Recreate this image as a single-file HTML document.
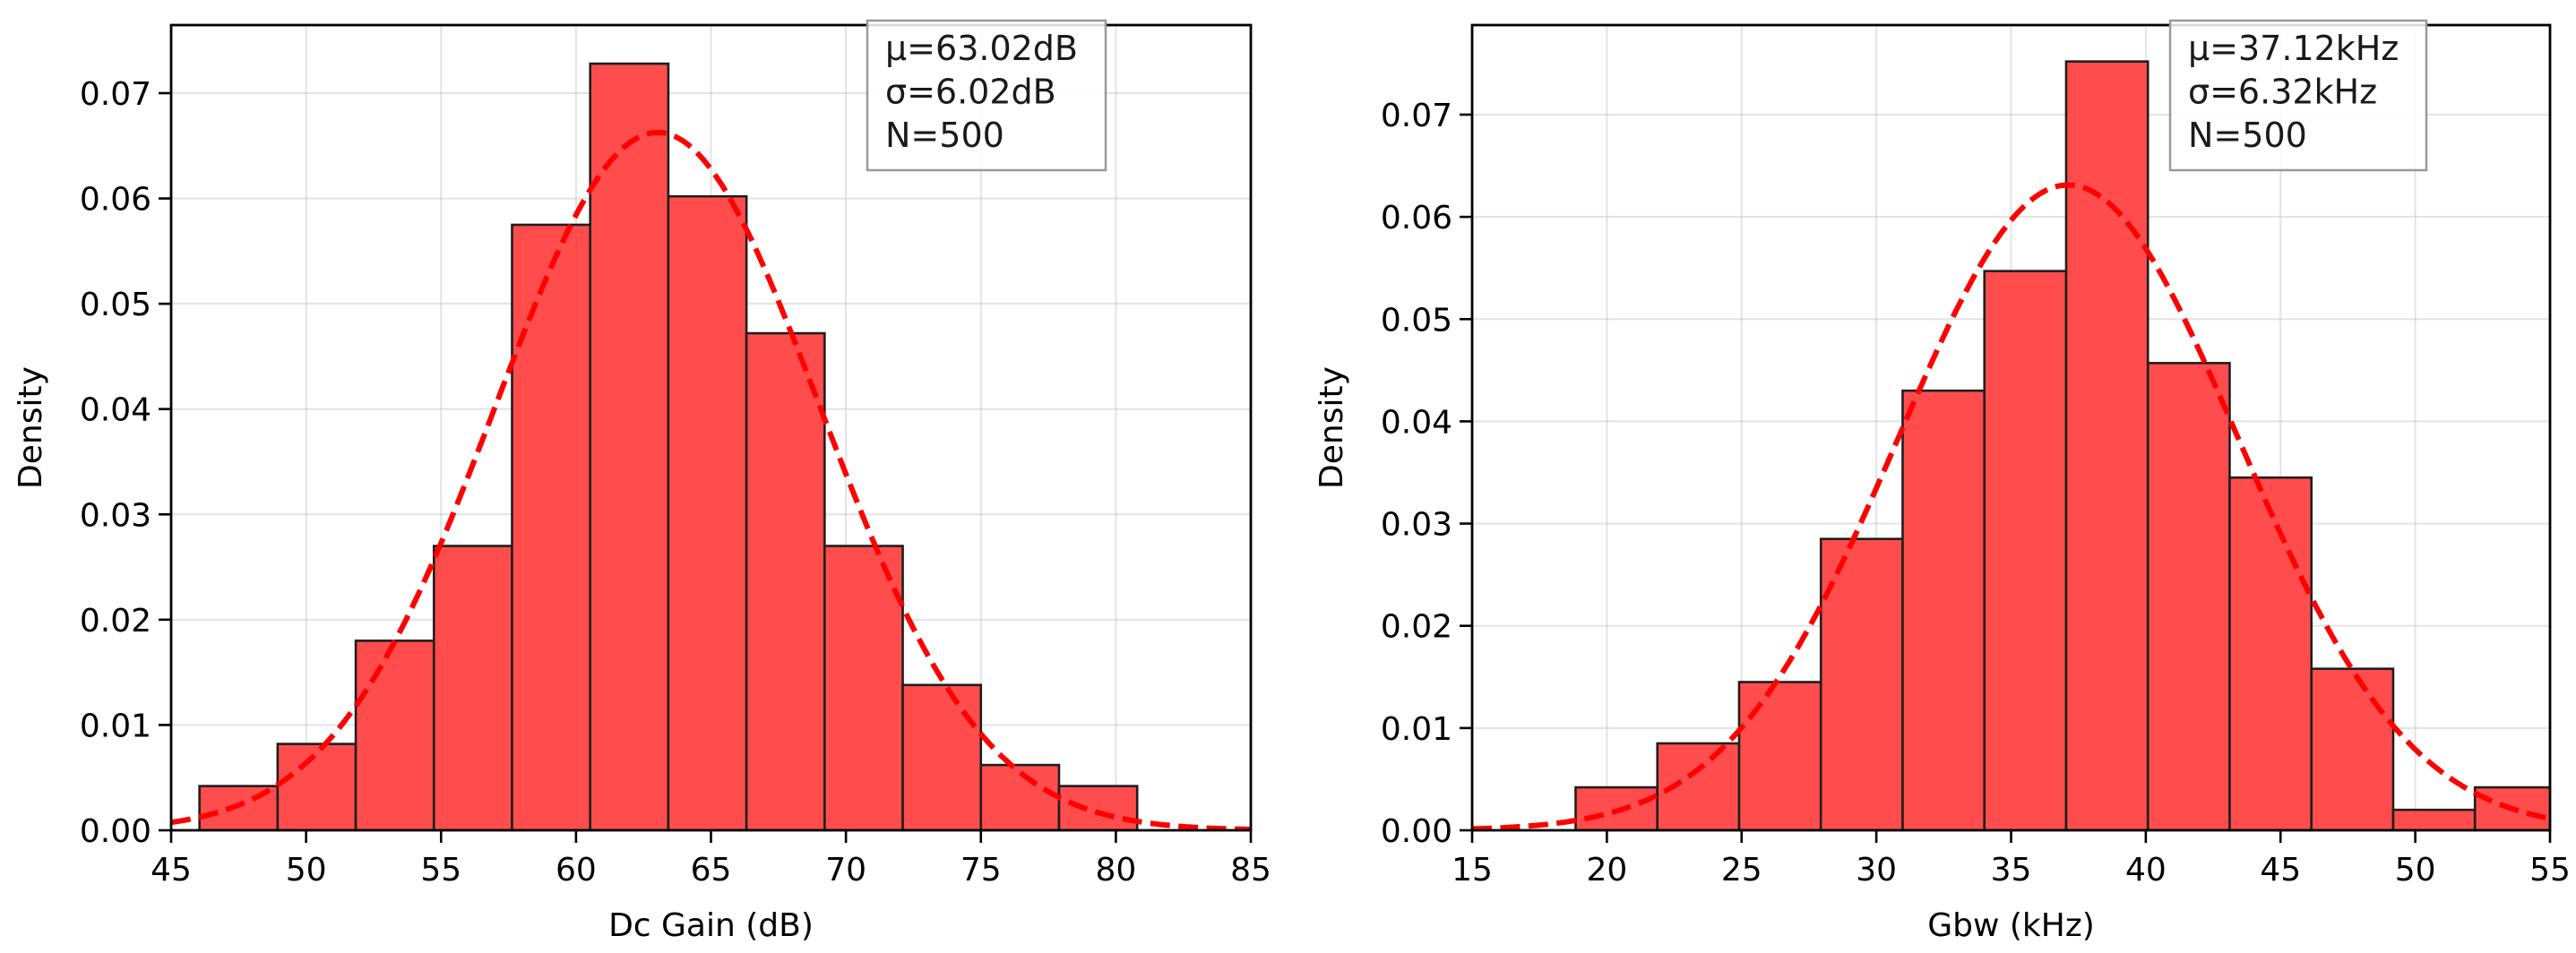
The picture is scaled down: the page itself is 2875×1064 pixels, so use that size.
<!DOCTYPE html>
<html><head><meta charset="utf-8"><style>
html,body{margin:0;padding:0;background:#fff;}
svg{display:block;font-family:"DejaVu Sans","Liberation Sans",sans-serif;}
</style></head><body>
<svg id="fig" width="2875" height="1064" viewBox="0 0 2875 1064"></svg>
<script>
// Left chart data
const leftBinStart = 46.05;
const leftBinWidth = 2.895;
const leftDensity = [0.0042, 0.0082, 0.018, 0.027, 0.0575, 0.0728, 0.0602, 0.0472, 0.027, 0.0138, 0.0062, 0.0042];
const leftFit = [63.02, 6.02];
const leftXTicks = [45, 50, 55, 60, 65, 70, 75, 80, 85];
const leftStats = ["μ=63.02dB", "σ=6.02dB", "N=500"];
// Right chart data
const rightBinStart = 18.84;
const rightBinWidth = 3.034;
const rightDensity = [0.0042, 0.0085, 0.0145, 0.0285, 0.043, 0.0547, 0.0752, 0.0457, 0.0345, 0.0158, 0.002, 0.0042];
const rightFit = [37.12, 6.32];
const rightXTicks = [15, 20, 25, 30, 35, 40, 45, 50, 55];
const rightStats = ["μ=37.12kHz", "σ=6.32kHz", "N=500"];
const yTicks = [0.00, 0.01, 0.02, 0.03, 0.04, 0.05, 0.06, 0.07];

const NS = "http://www.w3.org/2000/svg";
const svg = document.getElementById('fig');
function mk(tag, attrs, parent){
  const e = document.createElementNS(NS, tag);
  for (const k in attrs) e.setAttribute(k, attrs[k]);
  (parent || svg).appendChild(e);
  return e;
}

function drawPanel(p){
  const g = mk('g', {});
  
  
  const X = v => p.x0 + (v - p.xmin) / (p.xmax - p.xmin) * (p.x1 - p.x0);
  const Y = v => p.yb - (v / 0.07) * (p.yb - p.y07);
  p.xticks.forEach(t => {
    const l = mk('line', {x1:X(t), x2:X(t), y1:p.yt, y2:p.yb, stroke:'#b0b0b0', 'stroke-opacity':0.35, 'stroke-width':2}, g);
    
    
  });
  yTicks.forEach(t => {
    const l = mk('line', {x1:p.x0, x2:p.x1, y1:Y(t), y2:Y(t), stroke:'#b0b0b0', 'stroke-opacity':0.35, 'stroke-width':2}, g);
    
    
  });
  const cid = 'clip-' + p.name;
  const cp = mk('clipPath', {id: cid}, g);
  mk('rect', {x:p.x0, y:p.yt, width:p.x1-p.x0, height:p.yb-p.yt}, cp);
  const inner = mk('g', {'clip-path': 'url(#' + cid + ')'}, g);
  p.density.forEach((d, i) => {
    const a = p.binStart + i * p.binWidth, b = a + p.binWidth;
    const r = mk('rect', {x:X(a), y:Y(d), width:X(b)-X(a), height:Y(0)-Y(d), fill:'#ff4d4d', stroke:'#1e1e1e', 'stroke-width':2.6}, inner);
    
    
  });
  const mu = p.fit[0], sd = p.fit[1];
  let dstr = '';
  for (let k = 0; k <= 300; k++){
    const x = p.xmin + (p.xmax - p.xmin) * k / 300;
    const y = Math.exp(-0.5 * ((x - mu) / sd) ** 2) / (sd * Math.sqrt(2 * Math.PI));
    dstr += (k ? 'L' : 'M') + X(x).toFixed(1) + ',' + Y(y).toFixed(1);
  }
  const c = mk('path', {d:dstr, fill:'none', stroke:'#ff0000', 'stroke-width':6, 'stroke-dasharray':'22,9.5'}, inner);
  
  
  const f = mk('rect', {x:p.x0, y:p.yt, width:p.x1-p.x0, height:p.yb-p.yt, fill:'none', stroke:'#000', 'stroke-width':2.8}, g);
  
  
  p.xticks.forEach(t => {
    mk('line', {x1:X(t), x2:X(t), y1:p.yb, y2:p.yb+14, stroke:'#000', 'stroke-width':2.6}, g);
    const tx = mk('text', {x:X(t), y:983, 'font-size':36, 'text-anchor':'middle', fill:'#000'}, g);
    tx.textContent = t;
    
    
  });
  yTicks.forEach(t => {
    mk('line', {x1:p.x0-14, x2:p.x0, y1:Y(t), y2:Y(t), stroke:'#000', 'stroke-width':2.6}, g);
    const tx = mk('text', {x:p.x0-22, y:Y(t)+13, 'font-size':36, 'text-anchor':'end', fill:'#000'}, g);
    tx.textContent = t.toFixed(2);
    
    
  });
  const xl = mk('text', {x:(p.x0+p.x1)/2, y:1045, 'font-size':36, 'text-anchor':'middle', fill:'#000'}, g);
  xl.textContent = p.xlabel;
  
  
  const yl = mk('text', {x:0, y:0, 'font-size':36, 'text-anchor':'middle', fill:'#000', transform:'translate(' + p.ylx + ',' + ((p.yt+p.yb)/2) + ') rotate(-90)'}, g);
  yl.textContent = 'Density';
  
  
  const bx = mk('rect', {x:p.bx0, y:23, width:p.bx1-p.bx0, height:167, fill:'#fff', 'fill-opacity':0.85, stroke:'#999', 'stroke-width':2.5}, g);
  
  
  p.stats.forEach((s, i) => {
    const t = mk('text', {x:p.bx0+20, y:67+i*48.5, 'font-size':38, fill:'#1a1a1a'}, g);
    t.textContent = s;
    
    
  });
}

drawPanel({name:'dc-gain-histogram', x0:191, x1:1396, xmin:45, xmax:85, yt:28, yb:927, y07:104,
  xticks:leftXTicks, density:leftDensity, binStart:leftBinStart, binWidth:leftBinWidth, fit:leftFit,
  xlabel:'Dc Gain (dB)', ylx:46, stats:leftStats, bx0:968, bx1:1234});
drawPanel({name:'gbw-histogram', x0:1643, x1:2846, xmin:15, xmax:55, yt:28, yb:927, y07:128,
  xticks:rightXTicks, density:rightDensity, binStart:rightBinStart, binWidth:rightBinWidth, fit:rightFit,
  xlabel:'Gbw (kHz)', ylx:1498, stats:rightStats, bx0:2422, bx1:2708});
</script>
</body></html>
